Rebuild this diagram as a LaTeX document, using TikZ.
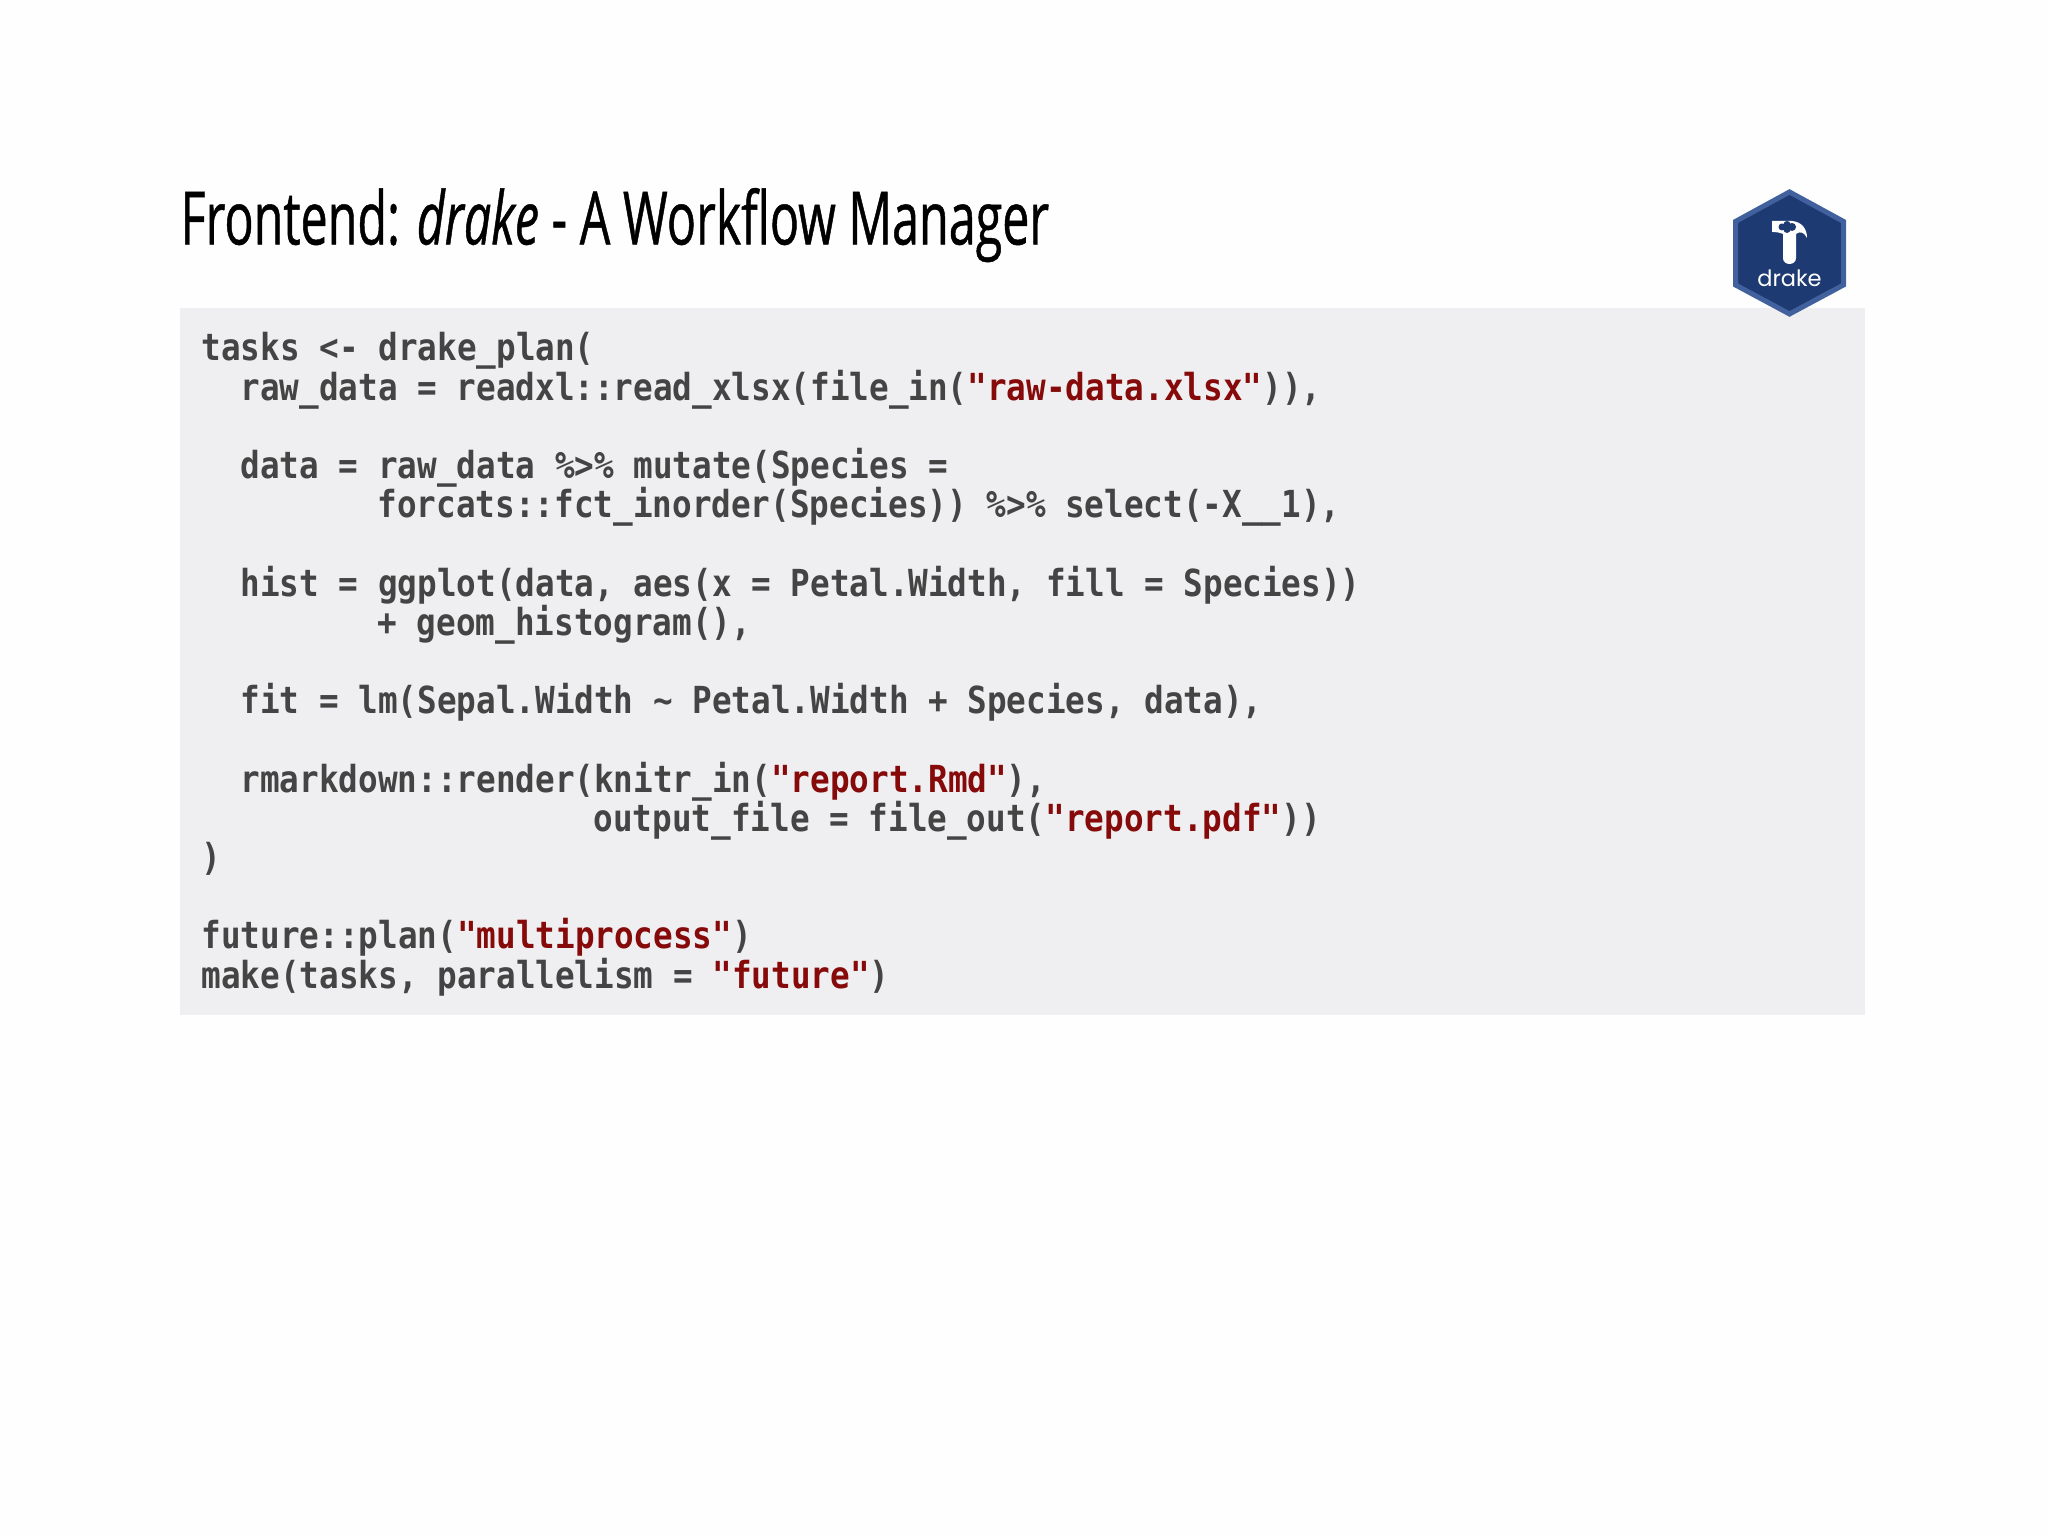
\documentclass[tikz,border=0pt]{standalone}
\usepackage{fontspec}
\setmainfont{Liberation Sans}
\newfontfamily\titlefont[FakeStretch=0.656,FakeBold=0.6,Ligatures=TeX]{Open Sans}
\newfontfamily\codefont[FakeStretch=0.876,Ligatures=NoCommon,BoldFont={DejaVu Sans Mono Bold}]{DejaVu Sans Mono}
\newfontfamily\hexfont{Poppins}
\usetikzlibrary{positioning,calc}
\definecolor{pagebg}{HTML}{FEFEFE}
\definecolor{codebg}{HTML}{EFEEF0}
\definecolor{codetxt}{HTML}{444444}
\definecolor{strtxt}{HTML}{860A0A}
\definecolor{hexfill}{HTML}{1E3A72}
\definecolor{hexline}{HTML}{41609E}
\newcommand{\str}[1]{\textcolor{strtxt}{#1}}

\begin{document}
\begin{tikzpicture}[
	code/.style={anchor=base west,inner sep=0pt,text=codetxt,font=\codefont\bfseries\fontsize{10.6pt}{12pt}\selectfont},
	title/.style={anchor=base west,inner sep=0pt,text=black,font=\titlefont\fontsize{21pt}{24pt}\selectfont}]

    \useasboundingbox (0cm,0cm) rectangle (20.48cm,15.37cm);
    \fill[pagebg] (0cm,0cm) rectangle (20.48cm,15.37cm);

    \node (TITLE) at (1.80cm,12.925cm) [title] {Frontend: \textit{drake} - A Workflow Manager};

    \fill[codebg] (1.80cm,5.22cm) rectangle (18.65cm,12.29cm);

    \node (TASKS) at (2.01cm,11.76cm) [code] {tasks <- drake\_plan(};
    \node (RAW) at (2.40cm,11.368cm) [code] {raw\_data = readxl::read\_xlsx(file\_in(\str{"raw-data.xlsx"})),};
    \node (DATA) at (2.40cm,10.584cm) [code] {data = raw\_data \%>\% mutate(Species =};
    \node (FORCATS) at (3.77cm,10.192cm) [code] {forcats::fct\_inorder(Species)) \%>\% select(-X\_\_1),};
    \node (HIST) at (2.40cm,9.408cm) [code] {hist = ggplot(data, aes(x = Petal.Width, fill = Species))};
    \node (GEOM) at (3.77cm,9.016cm) [code] {+ geom\_histogram(),};
    \node (FIT) at (2.40cm,8.232cm) [code] {fit = lm(Sepal.Width \string~ Petal.Width + Species, data),};
    \node (RENDER) at (2.40cm,7.448cm) [code] {rmarkdown::render(knitr\_in(\str{"report.Rmd"}),};
    \node (OUTPUT) at (5.93cm,7.056cm) [code] {output\_file = file\_out(\str{"report.pdf"}))};
    \node (CLOSE) at (2.01cm,6.664cm) [code] {)};
    \node (FUTURE) at (2.01cm,5.88cm) [code] {future::plan(\str{"multiprocess"})};
    \node (MAKE) at (2.01cm,5.488cm) [code] {make(tasks, parallelism = \str{"future"})};

    % hexagon sticker
    \fill[hexfill,draw=hexline,line width=0.05cm,line join=miter] (17.895cm,13.45cm) -- (18.435cm,13.155cm) -- (18.435cm,12.52cm) -- (17.895cm,12.23cm) -- (17.355cm,12.52cm) -- (17.355cm,13.155cm) -- cycle;
    \fill[white] (17.72cm,13.16cm) -- (17.92cm,13.16cm) .. controls (18.02cm,13.15cm) and (18.07cm,13.08cm) .. (18.07cm,12.99cm) .. controls (18.04cm,13.05cm) and (18.00cm,13.06cm) .. (17.96cm,13.03cm) -- (17.96cm,12.79cm) .. controls (17.96cm,12.71cm) and (17.83cm,12.71cm) .. (17.83cm,12.79cm) -- (17.83cm,13.03cm) .. controls (17.81cm,13.04cm) and (17.77cm,13.05cm) .. (17.72cm,13.05cm) -- cycle;
    \fill[hexfill] (17.82cm,13.10cm) circle (0.035cm) (17.87cm,13.125cm) circle (0.035cm) (17.92cm,13.10cm) circle (0.04cm) (17.87cm,13.075cm) circle (0.035cm);
    \node (HEXNAME) at (17.895cm,12.59cm) [inner sep=0pt,text=white,font=\hexfont\fontsize{6.4pt}{8pt}\selectfont] {drake};

\end{tikzpicture}
\end{document}
